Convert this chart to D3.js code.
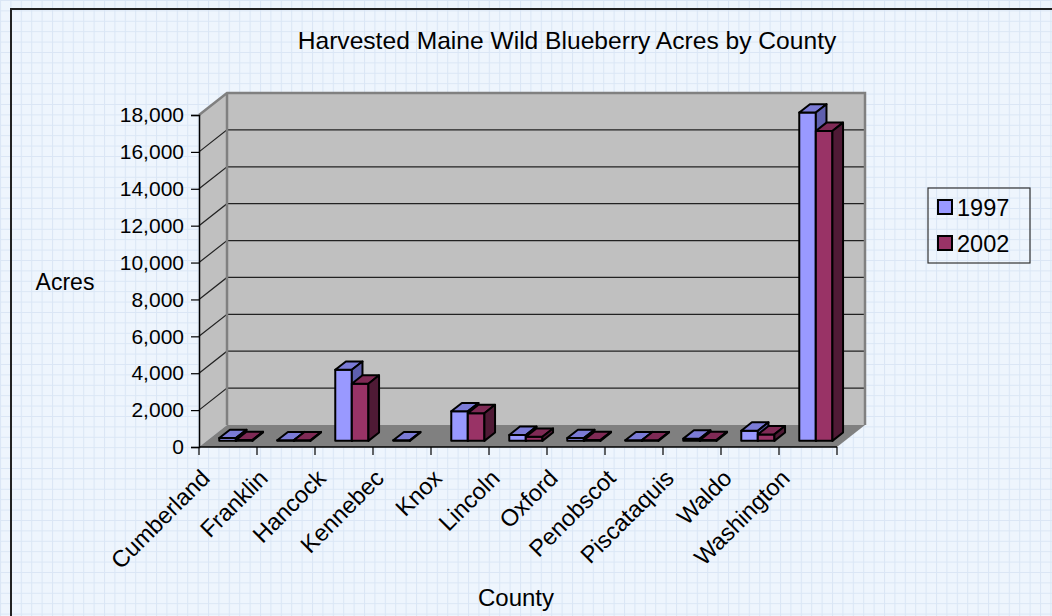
<!DOCTYPE html>
<html>
<head>
<meta charset="utf-8">
<script src="https://cdn.jsdelivr.net/npm/d3@7"></script>
<style>
  body { margin: 0; overflow: hidden; }
  text { font-family: "Liberation Sans", Arial, sans-serif; fill: #000; }
</style>
</head>
<body>
<div id="chart"></div>
<script>
// Chart data
const categories = ["Cumberland", "Franklin", "Hancock", "Kennebec", "Knox", "Lincoln",
    "Oxford", "Penobscot", "Piscataquis", "Waldo", "Washington"];
const seriesNames = ["1997", "2002"];
const acres1997 = [150, 30, 3850, 30, 1600, 320, 150, 30, 120, 550, 17800];
const acres2002 = [40, 30, 3100, null, 1500, 220, 40, 30, 40, 350, 16800];
const yTicks = [0, 2000, 4000, 6000, 8000, 10000, 12000, 14000, 16000, 18000];

// Sizes
const W = 1052, H = 616;
const DX = 28, DY = 22;          // wall depth offset
const front = 0.28, back = 0.66; // bar depth range (fraction of wall depth)

const colors = [
    { front: "#9999ff", top: "#7b7bd6", side: "#5f5fae" },
    { front: "#993366", top: "#7f2a55", side: "#4f1a35" }
];

const svg = d3.select("#chart").append("svg")
    .attr("width", W)
    .attr("height", H);

// Graph paper background
const defs = svg.append("defs");
const pat = defs.append("pattern")
    .attr("id", "grid")
    .attr("width", 10.4)
    .attr("height", 10.4)
    .attr("patternUnits", "userSpaceOnUse");
pat.append("rect").attr("width", 10.4).attr("height", 10.4).attr("fill", "#eef5fd");
pat.append("path").attr("d", "M0,0.5H10.4M0.5,0V10.4")
    .attr("stroke", "#dae6f5").attr("stroke-width", 1);

svg.append("rect").attr("width", W).attr("height", H).attr("fill", "url(#grid)");
svg.append("rect")
    .attr("x", 11).attr("y", 9)
    .attr("width", W + 20).attr("height", H + 20)
    .attr("fill", "none")
    .attr("stroke", "#222")
    .attr("stroke-width", 2);

// Scales
const x = d3.scaleBand().domain(categories).range([199, 837]).padding(0);
const y = d3.scaleLinear().domain([0, 18000]).range([447, 115]);

const xL = 199, xR = 837;
const pt = (px, v, d) => [px + d * DX, y(v) - d * DY];
const poly = pts => "M" + pts.map(p => p.join(",")).join("L") + "Z";

// Side wall, back wall, floor
svg.append("path")
    .attr("d", poly([pt(xL, 0, 0), pt(xL, 18000, 0), pt(xL, 18000, 1), pt(xL, 0, 1)]))
    .attr("fill", "#c0c0c0");
svg.append("path")
    .attr("d", poly([pt(xL, 0, 1), pt(xL, 18000, 1), pt(xR, 18000, 1), pt(xR, 0, 1)]))
    .attr("fill", "#c0c0c0");
svg.append("path")
    .attr("d", poly([pt(xL, 0, 0), pt(xL, 0, 1), pt(xR, 0, 1), pt(xR, 0, 0)]))
    .attr("fill", "#808080");

// Gridlines on back and side walls
const grid = svg.append("g");
yTicks.filter(v => v > 0 && v < 18000).forEach(v => {
    grid.append("path")
        .attr("d", "M" + pt(xL, v, 0) + "L" + pt(xL, v, 1) + "L" + pt(xR, v, 1))
        .attr("fill", "none")
        .attr("stroke", "#222")
        .attr("stroke-width", 1.2);
});
// wall edges
svg.append("path")
    .attr("d", "M" + pt(xL, 18000, 0) + "L" + pt(xL, 18000, 1) + "L" + pt(xR, 18000, 1) + "L" + pt(xR, 0, 1))
    .attr("fill", "none").attr("stroke", "#808080").attr("stroke-width", 2.5);
svg.append("path")
    .attr("d", "M" + pt(xL, 18000, 1) + "L" + pt(xL, 0, 1))
    .attr("fill", "none").attr("stroke", "#808080").attr("stroke-width", 2.5);

// Bars
const bw = x.bandwidth() / 3.5;
const series = [acres1997, acres2002];
const bars = svg.append("g").attr("stroke", "#000").attr("stroke-width", 2)
    .attr("stroke-linejoin", "round");
categories.forEach((c, i) => {
    series.forEach((vals, s) => {
        const v = vals[i];
        if (v == null) return;
        const x0 = x(c) + 0.75 * bw + s * bw, x1 = x0 + bw;
        const col = colors[s];
        bars.append("path")
            .attr("d", poly([pt(x0, 0, front), pt(x0, v, front), pt(x1, v, front), pt(x1, 0, front)]))
            .attr("fill", col.front);
        bars.append("path")
            .attr("d", poly([pt(x0, v, front), pt(x0, v, back), pt(x1, v, back), pt(x1, v, front)]))
            .attr("fill", col.top);
        bars.append("path")
            .attr("d", poly([pt(x1, 0, front), pt(x1, v, front), pt(x1, v, back), pt(x1, 0, back)]))
            .attr("fill", col.side);
    });
});

// Y axis
const yAxis = svg.append("g")
    .attr("transform", `translate(${xL},0)`)
    .call(d3.axisLeft(y).tickValues(yTicks).tickFormat(d3.format(",")).tickSize(8).tickPadding(7));
yAxis.select(".domain").attr("stroke", "#000").attr("stroke-width", 1.5);
yAxis.selectAll(".tick line").attr("stroke", "#000").attr("stroke-width", 1.2);
yAxis.selectAll("text").attr("font-size", 21).attr("font-family", "Liberation Sans, Arial, sans-serif");

// X axis
const xAxisG = svg.append("g").attr("transform", `translate(0,${y(0)})`);
xAxisG.append("line").attr("x1", xL).attr("x2", xR).attr("stroke", "#000").attr("stroke-width", 1.5);
xAxisG.selectAll(".bt").data(categories.concat(["_end"])).join("line")
    .attr("x1", (d, i) => i < categories.length ? x(d) : xR)
    .attr("x2", (d, i) => i < categories.length ? x(d) : xR)
    .attr("y1", 0).attr("y2", 8)
    .attr("stroke", "#000").attr("stroke-width", 1.2);
const xAxis = svg.append("g")
    .attr("transform", `translate(0,${y(0)})`)
    .call(d3.axisBottom(x).tickSize(0));
xAxis.select(".domain").remove();
xAxis.selectAll("text")
    .attr("font-size", 23.5)
    .attr("font-family", "Liberation Sans, Arial, sans-serif")
    .attr("text-anchor", "end")
    .attr("x", -35).attr("y", 3).attr("dy", "0.35em")
    .attr("transform", "rotate(-45)");

// Titles
svg.append("text").attr("x", 567).attr("y", 49).attr("text-anchor", "middle")
    .attr("font-size", 24.6).text("Harvested Maine Wild Blueberry Acres by County");
svg.append("text").attr("x", 65).attr("y", 290).attr("text-anchor", "middle")
    .attr("font-size", 23).text("Acres");
svg.append("text").attr("x", 516).attr("y", 606).attr("text-anchor", "middle")
    .attr("font-size", 24).text("County");

// Legend
const lg = svg.append("g").attr("transform", "translate(928,188)");
lg.append("rect").attr("width", 102).attr("height", 75)
    .attr("fill", "none").attr("stroke", "#333").attr("stroke-width", 1.2);
seriesNames.forEach((n, i) => {
    const row = lg.append("g").attr("transform", `translate(10,${12 + i * 36})`);
    row.append("rect").attr("width", 14).attr("height", 14)
        .attr("fill", colors[i].front).attr("stroke", "#000").attr("stroke-width", 2);
    row.append("text").attr("x", 19).attr("y", 16).attr("font-size", 23.5).text(n);
});
</script>
</body>
</html>
